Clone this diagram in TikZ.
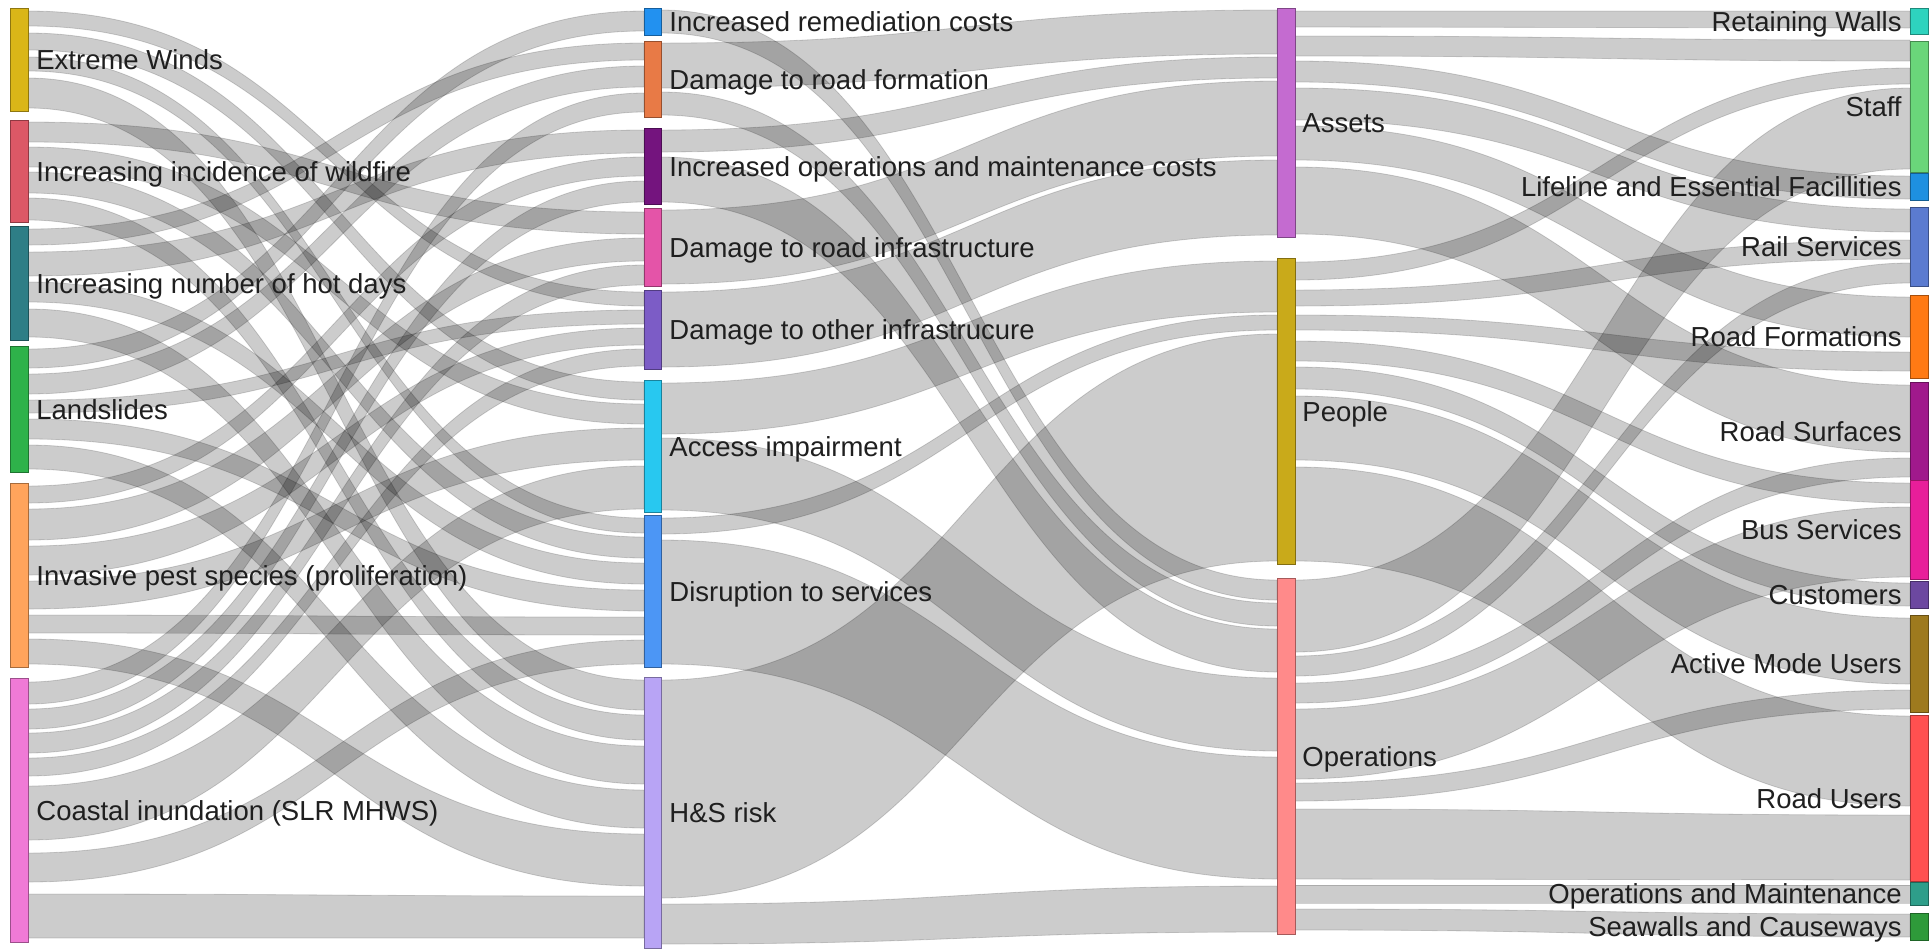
\documentclass[tikz,border=0pt]{standalone}
\usepackage{fontspec}
\setmainfont{Liberation Sans}
\usetikzlibrary{calc}
\pgfdeclarelayer{background}
\pgfsetlayers{background,main}
% node colours
\definecolor{cEW}{RGB}{218,182,24}
\definecolor{cWF}{RGB}{220,88,102}
\definecolor{cHD}{RGB}{46,126,134}
\definecolor{cLS}{RGB}{46,178,74}
\definecolor{cIP}{RGB}{255,164,92}
\definecolor{cCI}{RGB}{240,122,214}
\definecolor{cIRC}{RGB}{34,145,240}
\definecolor{cDRF}{RGB}{232,122,70}
\definecolor{cIOM}{RGB}{116,20,126}
\definecolor{cDRI}{RGB}{228,84,168}
\definecolor{cDOI}{RGB}{124,92,198}
\definecolor{cAI}{RGB}{40,200,240}
\definecolor{cDS}{RGB}{76,150,245}
\definecolor{cHS}{RGB}{184,164,245}
\definecolor{cAS}{RGB}{196,107,208}
\definecolor{cPE}{RGB}{201,170,26}
\definecolor{cOP}{RGB}{255,138,138}
\definecolor{cRW}{RGB}{46,211,190}
\definecolor{cST}{RGB}{106,214,122}
\definecolor{cLF}{RGB}{30,144,224}
\definecolor{cRL}{RGB}{91,123,208}
\definecolor{cRF}{RGB}{255,122,20}
\definecolor{cRS}{RGB}{160,25,140}
\definecolor{cBS}{RGB}{232,30,154}
\definecolor{cCU}{RGB}{108,72,160}
\definecolor{cAM}{RGB}{158,122,30}
\definecolor{cRU}{RGB}{255,80,80}
\definecolor{cOM}{RGB}{46,158,138}
\definecolor{cSC}{RGB}{46,154,58}
\tikzset{
  flow/.style={fill=black, fill opacity=0.2, draw=black, draw opacity=0.16, line width=0.4pt},
  skbar/.style={line width=0.5pt, inner sep=0pt, outer sep=0pt, anchor=north west},
  lab/.style={font=\fontsize{13.75}{16}\selectfont, inner sep=0pt, text=black!88},
}
% a coloured bar: name, x0, y0, x1, y1, colour (pixel units, y downwards)
\newcommand\sknode[6]{%
  \node[skbar, fill=#6, draw=#6!65!black,
        minimum width={(#4-#2)*0.5pt}, minimum height={(#5-#3)*0.5pt}] (#1) at (#2,#3) {};}
% a flow band: source, top, bottom, target, top, bottom
\newcommand\lk[6]{%
  \path[flow] let \p1=(#1.east), \p2=(#4.west), \n1={(\x1+\x2)/2} in
   (\x1,{-#2*0.5pt}) .. controls (\n1,{-#2*0.5pt}) and (\n1,{-#5*0.5pt}) .. (\x2,{-#5*0.5pt})
   -- (\x2,{-#6*0.5pt}) .. controls (\n1,{-#6*0.5pt}) and (\n1,{-#3*0.5pt}) .. (\x1,{-#3*0.5pt}) -- cycle;}
\begin{document}
\begin{tikzpicture}[x=0.5pt, y=-0.5pt]
\useasboundingbox (0,0) rectangle (1931,950);
% hazards
\sknode{ew}{10}{8}{28}{111}{cEW}
\sknode{wf}{10}{120}{28}{222}{cWF}
\sknode{hd}{10}{226}{28}{340}{cHD}
\sknode{ls}{10}{346}{28}{472}{cLS}
\sknode{ip}{10}{483}{28}{667}{cIP}
\sknode{ci}{10}{678}{28}{942}{cCI}
% consequences
\sknode{irc}{644}{8}{661}{35}{cIRC}
\sknode{drf}{644}{41}{661}{117}{cDRF}
\sknode{iom}{644}{128}{661}{204}{cIOM}
\sknode{dri}{644}{208}{661}{286}{cDRI}
\sknode{doi}{644}{290}{661}{369}{cDOI}
\sknode{ai}{644}{380}{661}{512}{cAI}
\sknode{ds}{644}{515}{661}{667}{cDS}
\sknode{hs}{644}{677}{661}{948}{cHS}
% categories
\sknode{assets}{1277}{8}{1295}{237}{cAS}
\sknode{people}{1277}{258}{1295}{564}{cPE}
\sknode{ops}{1277}{578}{1295}{934}{cOP}
% elements
\sknode{rw}{1910}{8}{1928}{34}{cRW}
\sknode{staff}{1910}{41}{1928}{172}{cST}
\sknode{life}{1910}{173}{1928}{200}{cLF}
\sknode{rail}{1910}{207}{1928}{286}{cRL}
\sknode{rf}{1910}{295}{1928}{378}{cRF}
\sknode{rs}{1910}{382}{1928}{480}{cRS}
\sknode{bus}{1910}{480}{1928}{579}{cBS}
\sknode{cust}{1910}{581}{1928}{608}{cCU}
\sknode{amu}{1910}{615}{1928}{712}{cAM}
\sknode{ru}{1910}{715}{1928}{881}{cRU}
\sknode{om}{1910}{882}{1928}{905}{cOM}
\sknode{sc}{1910}{913}{1928}{940}{cSC}

\begin{pgfonlayer}{background}
\fill[white] (0,0) rectangle (1931,950);
% hazards to consequences
\lk{ew}{11}{26}{doi}{292}{306}
\lk{ew}{33}{50}{ai}{382}{400}
\lk{ew}{57}{71}{ds}{518}{533}
\lk{ew}{78}{108}{hs}{680}{710}
\lk{wf}{122}{142}{dri}{212}{234}
\lk{wf}{147}{167}{ai}{404}{424}
\lk{wf}{172}{193}{ds}{537}{558}
\lk{wf}{198}{220}{hs}{715}{740}
\lk{hd}{229}{245}{drf}{43}{60}
\lk{hd}{252}{276}{iom}{130}{153}
\lk{hd}{282}{302}{ds}{563}{584}
\lk{hd}{309}{337}{hs}{746}{784}
\lk{ls}{349}{368}{irc}{11}{31}
\lk{ls}{374}{394}{drf}{66}{87}
\lk{ls}{400}{413}{doi}{310}{324}
\lk{ls}{419}{439}{ds}{590}{611}
\lk{ls}{445}{469}{hs}{790}{828}
\lk{ip}{486}{503}{iom}{157}{176}
\lk{ip}{509}{540}{dri}{238}{261}
\lk{ip}{546}{575}{doi}{328}{345}
\lk{ip}{581}{609}{ai}{428}{460}
\lk{ip}{615}{633}{ds}{617}{635}
\lk{ip}{639}{664}{hs}{834}{886}
\lk{ci}{682}{704}{drf}{93}{112}
\lk{ci}{709}{729}{iom}{181}{202}
\lk{ci}{733}{753}{dri}{265}{285}
\lk{ci}{758}{776}{doi}{349}{366}
\lk{ci}{786}{840}{ai}{466}{509}
\lk{ci}{853}{882}{ds}{640}{664}
\lk{ci}{894}{938}{hs}{896}{938}
% consequences to categories
\lk{irc}{10}{33}{ops}{580}{600}
\lk{drf}{43}{88}{assets}{10}{54}
\lk{drf}{92}{115}{ops}{603}{626}
\lk{iom}{130}{152}{assets}{57}{78}
\lk{iom}{157}{202}{ops}{629}{672}
\lk{dri}{210}{284}{assets}{81}{156}
\lk{doi}{292}{367}{assets}{160}{235}
\lk{ai}{383}{434}{people}{261}{312}
\lk{ai}{438}{510}{ops}{678}{751}
\lk{ds}{518}{534}{people}{315}{330}
\lk{ds}{540}{664}{ops}{757}{879}
\lk{hs}{680}{898}{people}{334}{561}
\lk{hs}{904}{944}{ops}{886}{932}
% categories to elements
\lk{assets}{11}{27}{rw}{11}{28}
\lk{assets}{36}{56}{staff}{40}{61}
\lk{assets}{61}{82}{life}{176}{199}
\lk{assets}{88}{120}{rail}{209}{232}
\lk{assets}{126}{160}{rf}{297}{337}
\lk{assets}{167}{234}{rs}{385}{452}
\lk{people}{262}{280}{staff}{68}{84}
\lk{people}{290}{306}{rail}{240}{259}
\lk{people}{315}{330}{rf}{352}{371}
\lk{people}{341}{361}{bus}{483}{503}
\lk{people}{367}{389}{cust}{583}{606}
\lk{people}{396}{460}{amu}{618}{684}
\lk{people}{467}{561}{ru}{716}{806}
\lk{ops}{580}{652}{staff}{88}{169}
\lk{ops}{656}{676}{rail}{263}{283}
\lk{ops}{683}{703}{rs}{458}{477}
\lk{ops}{709}{779}{bus}{507}{577}
\lk{ops}{783}{801}{amu}{690}{709}
\lk{ops}{809}{879}{ru}{815}{880}
\lk{ops}{885}{903}{om}{885}{903}
\lk{ops}{909}{930}{sc}{914}{937}
\end{pgfonlayer}

% labels
\node[lab, anchor=base west] (tew) at (36,69.5) {Extreme Winds};
\node[lab, anchor=base west] (twf) at (36,181) {Increasing incidence of wildfire};
\node[lab, anchor=base west] (thd) at (36,293) {Increasing number of hot days};
\node[lab, anchor=base west] (tls) at (36,419) {Landslides};
\node[lab, anchor=base west] (tip) at (36,585) {Invasive pest species (proliferation)};
\node[lab, anchor=base west] (tci) at (36,820) {Coastal inundation (SLR MHWS)};
\node[lab, anchor=base west] (tirc) at (669,31.5) {Increased remediation costs};
\node[lab, anchor=base west] (tdrf) at (669,89) {Damage to road formation};
\node[lab, anchor=base west] (tiom) at (669,176) {Increased operations and maintenance costs};
\node[lab, anchor=base west] (tdri) at (669,257) {Damage to road infrastructure};
\node[lab, anchor=base west] (tdoi) at (669,339.5) {Damage to other infrastrucure};
\node[lab, anchor=base west] (tai) at (669,456) {Access impairment};
\node[lab, anchor=base west] (tds) at (669,601) {Disruption to services};
\node[lab, anchor=base west] (ths) at (669,822.5) {H\&S risk};
\node[lab, anchor=base west] (tassets) at (1302,132.5) {Assets};
\node[lab, anchor=base west] (tpeople) at (1302,421) {People};
\node[lab, anchor=base west] (tops) at (1302,766) {Operations};
\node[lab, anchor=base east] (trw) at (1902,31) {Retaining Walls};
\node[lab, anchor=base east] (tstaff) at (1902,116.5) {Staff};
\node[lab, anchor=base east] (tlife) at (1902,196.5) {Lifeline and Essential Facillities};
\node[lab, anchor=base east] (trail) at (1902,256.5) {Rail Services};
\node[lab, anchor=base east] (trf) at (1902,346.5) {Road Formations};
\node[lab, anchor=base east] (trs) at (1902,441) {Road Surfaces};
\node[lab, anchor=base east] (tbus) at (1902,539.5) {Bus Services};
\node[lab, anchor=base east] (tcust) at (1902,604.5) {Customers};
\node[lab, anchor=base east] (tamu) at (1902,673.5) {Active Mode Users};
\node[lab, anchor=base east] (tru) at (1902,808) {Road Users};
\node[lab, anchor=base east] (tom) at (1902,903.5) {Operations and Maintenance};
\node[lab, anchor=base east] (tsc) at (1902,936.5) {Seawalls and Causeways};
\end{tikzpicture}
\end{document}
